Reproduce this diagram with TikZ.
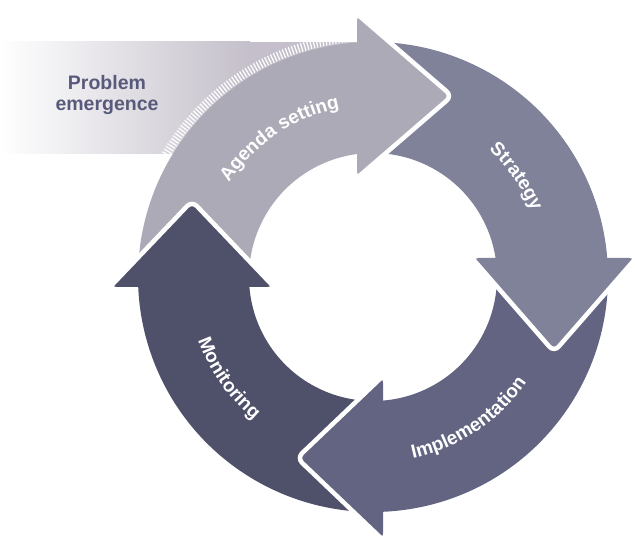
\documentclass[tikz,border=0pt]{standalone}
\usepackage{fontspec}
\setmainfont{Liberation Sans}
\usetikzlibrary{decorations.text}

\definecolor{agendagray}{RGB}{173,170,183}
\definecolor{strategygray}{RGB}{128,130,154}
\definecolor{implgray}{RGB}{98,100,129}
\definecolor{monitorgray}{RGB}{79,80,106}
\definecolor{bandgray}{RGB}{196,191,202}
\definecolor{probtext}{RGB}{88,90,124}
\newcommand{\arrowfont}{\fontsize{19}{19}\selectfont\bfseries}

\begin{document}
\begin{tikzpicture}[x=1pt, y=1pt,
    head/.style={rounded corners=7pt},
    headrim/.style={draw=white, line width=4.5pt, rounded corners=7pt},
    label/.style={decorate, decoration={text along path, text align=center, text color=white}}]
    \useasboundingbox (0,0) rectangle (636,543);
    % band coming in from the left
    \shade[left color=white, right color=bandgray] (0,389) rectangle (250,501);
    \fill[bandgray] (249.5,389) rectangle (357,501);
    \node[font=\fontsize{19.5}{21}\selectfont\bfseries, text=probtext, align=center] (problem) at (107,448) {Problem\\emergence};
    \begin{scope}[shift={(373,266)}]
        % ticks along the outer rim
        \begin{scope}
            \clip (-373,123) rectangle (-16,235);
            \foreach \a in {96,96.75,...,166}
                \draw[white, line width=1.2pt] (\a:236) -- (\a:245);
        \end{scope}
        % bodies
        \fill[agendagray] (182.4:235) arc (182.4:92:235) -- (92:124) arc (92:184.6:124) -- cycle;
        \fill[strategygray] (93.9:235) arc (93.9:2:235) -- (2:124) arc (2:97.4:124) -- cycle;
        \fill[implgray] (4.6:235) arc (4.6:-92:235) -- (-92:124) arc (-92:8.8:124) -- cycle;
        \fill[monitorgray] (-87.6:235) arc (-87.6:-183:235) -- (-183:124) arc (-183:-85.4:124) -- cycle;
        % heads
        \fill[agendagray, head] (-16,99) -- (79,181) -- (-16,263) -- cycle;
        \draw[headrim] (-16,263) -- (79,181) -- (-16,99);
        \fill[strategygray, head] (99,19) -- (181,-75) -- (263,19) -- cycle;
        \draw[headrim] (263,19) -- (181,-75) -- (99,19);
        \fill[implgray, head] (10,-99) -- (-76,-181) -- (10,-263) -- cycle;
        \draw[headrim] (10,-263) -- (-76,-181) -- (10,-99);
        \fill[monitorgray, head] (-263,-10) -- (-181,76) -- (-99,-10) -- cycle;
        \draw[headrim] (-263,-10) -- (-181,76) -- (-99,-10);
        % labels
        \path[label, decoration={text={|\arrowfont|Agenda setting}}] (160:172) arc (160:88:172);
        \path[label, decoration={text={|\arrowfont|Strategy}}] (70:172) arc (70:0:172);
        \path[label, decoration={text={|\arrowfont|Implementation}}] (-92:186) arc (-92:-20:186);
        \path[label, decoration={text={|\arrowfont|Monitoring}}] (180:186) arc (180:250:186);
    \end{scope}
\end{tikzpicture}
\end{document}
